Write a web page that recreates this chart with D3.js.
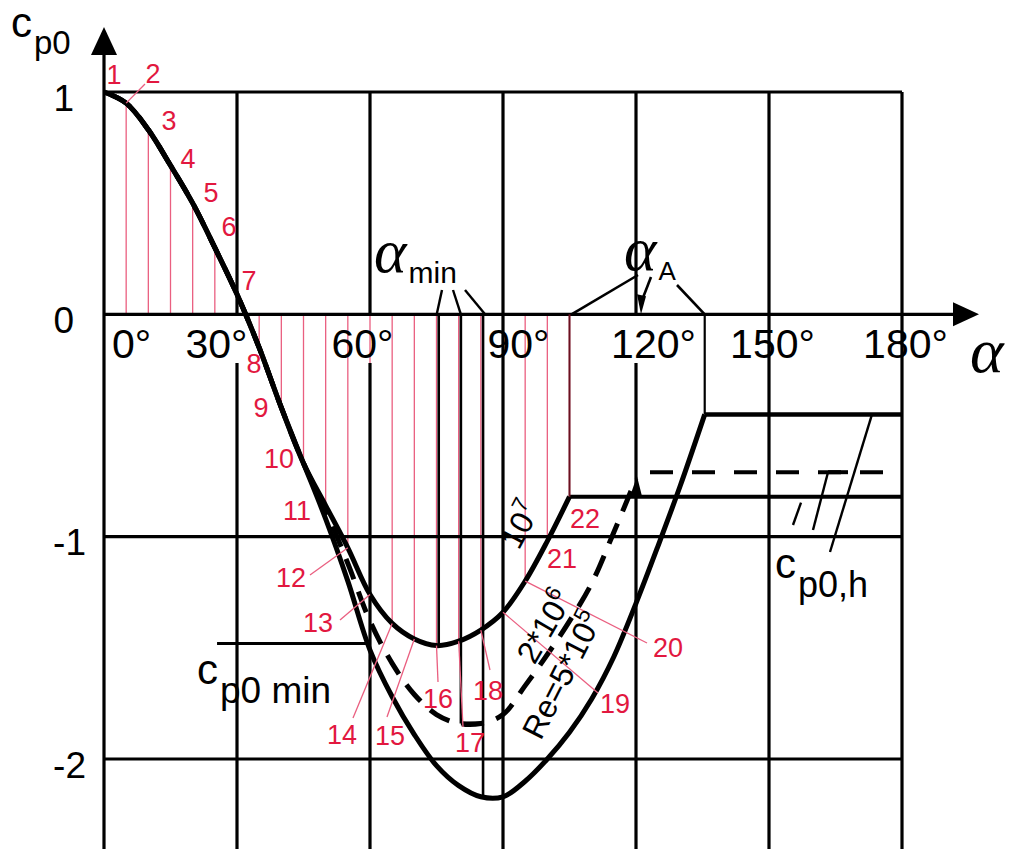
<!DOCTYPE html>
<html>
<head>
<meta charset="utf-8">
<script src="https://cdn.jsdelivr.net/npm/d3@7"></script>
<style>
body { margin: 0; background: #fff; }
svg { display: block; }
</style>
</head>
<body>
<svg id="chart" width="1022" height="849"></svg>
<script>

// ---- data ----
var angle_ticks = [0, 30, 60, 90, 120, 150, 180]
var cp_ticks = [1, 0, -1, -2]

// numbered points 1..22 sit on the Re=10^7 curve every 5 degrees
var point_alpha = [0, 5, 10, 15, 20, 25, 30, 35, 40, 45, 50, 55, 60, 65, 70, 75, 80, 85, 90, 95, 100, 105]
var re7_cp = [1, 0.95, 0.83, 0.67, 0.5, 0.3, 0.09, -0.15, -0.42, -0.67, -0.86, -1.05, -1.26, -1.39, -1.46, -1.49, -1.47, -1.42, -1.34, -1.2, -1.02, -0.82]

var re2e6_alpha = [0, 5, 10, 15, 20, 25, 30, 35, 40, 45, 50, 55, 60, 65, 70, 75, 80, 85, 90, 95, 100, 105, 110, 115, 120]
var re2e6_cp = [1, 0.95, 0.83, 0.67, 0.5, 0.3, 0.09, -0.15, -0.42, -0.67, -0.88, -1.12, -1.38, -1.57, -1.71, -1.8, -1.84, -1.84, -1.8, -1.67, -1.53, -1.38, -1.21, -0.98, -0.74]

var re5e5_alpha = [0, 5, 10, 15, 20, 25, 30, 35, 40, 45, 50, 55, 60, 65, 70, 75, 80, 85, 90, 95, 100, 105, 110, 115, 120, 125, 130, 135.5]
var re5e5_cp = [1, 0.95, 0.83, 0.67, 0.5, 0.3, 0.09, -0.15, -0.42, -0.67, -0.92, -1.2, -1.51, -1.72, -1.89, -2.03, -2.12, -2.17, -2.17, -2.1, -2.0, -1.88, -1.73, -1.54, -1.3, -1.04, -0.77, -0.45]

// alpha_min and alpha_A markers, order: 10^7, 2*10^6, 5*10^5
var alpha_min = [75.5, 80.5, 85.5]
var cp_min = [-1.49, -1.84, -2.17]
var alpha_A = [105, 120, 135.5]
var cp_h = [-0.82, -0.71, -0.45]
var cp0_min_line = [25.5, 60, -1.48]

// ---- layout ----
var red_line = "#ea5f80"
var red_text = "#e2183f"
var ink = "#000"
var sans = "Liberation Sans, Arial, sans-serif"
var serif = "Liberation Serif, Times New Roman, serif"

var svg = d3.select("#chart")

var x = d3.scaleLinear().domain([0, 180]).range([104, 902])
var y = d3.scaleLinear().domain([1, -2]).range([92, 759])
var y_bottom = 849

// label spots for the red numbers (pixel centres) and where their leaders start
var point_label_xy = [[114,74],[153,73],[169,120],[188,158],[211,192],[229,226],[249,280],[254,363],[261,407],[279,458],[297,510],
  [291,577],[318,622],[342,734],[390,735],[438,698],[470,742],[488,690],[615,703],[668,647],[562,558],[585,518]]
var leader_start = {1: [145,84], 11: [310,575], 12: [340,620], 13: [353,718], 14: [387,717], 15: [438,682],
  16: [463,727], 17: [490,670], 18: [598,693], 19: [647,643]}

// red hatch from the axis to the 10^7 curve
svg.append("g").attr("id", "hatch").selectAll("line")
  .data(point_alpha)
  .enter().append("line")
    .attr("x1", function(d){ return x(d) })
    .attr("x2", function(d){ return x(d) })
    .attr("y1", y(0))
    .attr("y2", function(d, i){ return y(re7_cp[i]) })
    .attr("stroke", red_line)
    .attr("stroke-width", 1.3)

// grid
var grid = svg.append("g").attr("id", "grid")
var gap_angles = [30, 60, 120]
angle_ticks.slice(1).forEach(function(a){
  if (gap_angles.indexOf(a) >= 0) {
    grid.append("line").attr("x1", x(a)).attr("x2", x(a)).attr("y1", y(1)).attr("y2", y(0))
    grid.append("line").attr("x1", x(a)).attr("x2", x(a)).attr("y1", 363).attr("y2", y_bottom)
  } else {
    grid.append("line").attr("x1", x(a)).attr("x2", x(a)).attr("y1", y(1)).attr("y2", y_bottom)
  }
})
cp_ticks.filter(function(c){ return c != 0 }).forEach(function(c){
  grid.append("line").attr("x1", x(0)).attr("x2", x(180)).attr("y1", y(c)).attr("y2", y(c))
})
grid.selectAll("line").attr("stroke", ink).attr("stroke-width", 3.2)

// axes with arrows
svg.append("line").attr("x1", x(0)).attr("x2", x(0)).attr("y1", y_bottom).attr("y2", 50)
  .attr("stroke", ink).attr("stroke-width", 3.2)
svg.append("polygon").attr("points", [[x(0), 27], [x(0) - 13, 55], [x(0) + 13, 55]].join(" ")).attr("fill", ink)
svg.append("line").attr("x1", x(0)).attr("x2", 958).attr("y1", y(0)).attr("y2", y(0))
  .attr("stroke", ink).attr("stroke-width", 3.2)
svg.append("polygon").attr("points", [[979, y(0)], [953, y(0) - 12], [953, y(0) + 12]].join(" ")).attr("fill", ink)

// tick labels
var x_dx = [27, -21, -8, 15, 17, 3, 3]
var x_axis = svg.append("g").attr("transform", "translate(0,358)")
  .call(d3.axisBottom(x).tickValues(angle_ticks).tickSize(0).tickFormat(function(d){ return d + "°" }))
x_axis.select(".domain").remove()
x_axis.selectAll("text")
  .attr("y", 0).attr("dy", 0)
  .attr("dx", function(d, i){ return x_dx[i] })
  .attr("font-family", sans)
  .attr("font-size", 41)
  .attr("fill", ink)

var y_axis = svg.append("g").attr("transform", "translate(80,0)")
  .call(d3.axisLeft(y).tickValues(cp_ticks).tickSize(0).tickPadding(0).tickFormat(function(d){ return String(d) }))
y_axis.select(".domain").remove()
y_axis.selectAll("text")
  .attr("x", function(d){ return d < 0 ? 6 : -6 })
  .attr("dy", 18)
  .attr("font-family", sans)
  .attr("font-size", 37)
  .attr("fill", ink)

// curves
var line_of = function(alphas){
  return d3.line()
    .x(function(d, i){ return x(alphas[i]) })
    .y(function(d){ return y(d) })
    .curve(d3.curveCatmullRom.alpha(0.5))
}
var curves = svg.append("g").attr("id", "curves").attr("fill", "none").attr("stroke", ink)
  .attr("stroke-linejoin", "round")

curves.append("path")
  .attr("d", line_of(re2e6_alpha)(re2e6_cp))
  .attr("stroke-width", 5)
  .attr("stroke-dasharray", "22,13")
  .attr("stroke-dashoffset", -8)
curves.append("path")
  .attr("d", line_of(point_alpha)(re7_cp))
  .attr("stroke-width", 5)
curves.append("path")
  .attr("d", line_of(re5e5_alpha)(re5e5_cp))
  .attr("stroke-width", 5)

// horizontal tails c_p0,h
curves.append("line").attr("x1", x(alpha_A[0])).attr("x2", x(180)).attr("y1", y(cp_h[0])).attr("y2", y(cp_h[0]))
  .attr("stroke-width", 4)
curves.append("line").attr("x1", x(alpha_A[1]) + 14).attr("x2", x(180)).attr("y1", y(cp_h[1])).attr("y2", y(cp_h[1]))
  .attr("stroke-width", 4).attr("stroke-dasharray", "23,19")
curves.append("line").attr("x1", x(alpha_A[2])).attr("x2", x(180)).attr("y1", y(cp_h[2])).attr("y2", y(cp_h[2]))
  .attr("stroke-width", 4.5)
svg.append("polygon")
  .attr("points", [[x(alpha_A[1]) + 1, y(cp_h[1]) + 4], [x(alpha_A[1]) - 6, y(cp_h[1]) + 24], [x(alpha_A[1]) + 6, y(cp_h[1]) + 24]].join(" "))
  .attr("fill", ink)

// alpha_A verticals and alpha_min verticals
var marks = svg.append("g").attr("stroke", ink)
marks.append("line").attr("x1", x(alpha_A[0])).attr("x2", x(alpha_A[0])).attr("y1", y(0)).attr("y2", y(cp_h[0]))
  .attr("stroke", "#6a1020").attr("stroke-width", 2)
marks.append("line").attr("x1", x(alpha_A[2])).attr("x2", x(alpha_A[2])).attr("y1", y(0)).attr("y2", y(cp_h[2]))
  .attr("stroke-width", 2.2)
alpha_min.forEach(function(a, i){
  marks.append("line").attr("x1", x(a)).attr("x2", x(a)).attr("y1", y(0)).attr("y2", y(cp_min[i]))
    .attr("stroke-width", 2.6)
})
marks.append("line").attr("x1", x(alpha_min[1])).attr("x2", x(alpha_min[2])).attr("y1", y(cp_min[1])).attr("y2", y(cp_min[1]))
  .attr("stroke-width", 4)
marks.append("line").attr("x1", x(cp0_min_line[0])).attr("x2", x(cp0_min_line[1]))
  .attr("y1", y(cp0_min_line[2])).attr("y2", y(cp0_min_line[2]))
  .attr("stroke-width", 3)

// pointer lines to alpha_min / alpha_A
var alpha_min_tops = [[442, 290], [453, 290], [465, 290]]
alpha_min.forEach(function(a, i){
  marks.append("line").attr("x1", alpha_min_tops[i][0]).attr("y1", alpha_min_tops[i][1])
    .attr("x2", x(a) + (i - 1) * 2).attr("y2", y(0)).attr("stroke-width", 2.4)
})
marks.append("line").attr("x1", 638).attr("y1", 275).attr("x2", x(alpha_A[0]) + 2).attr("y2", y(0)).attr("stroke-width", 2.6)
marks.append("line").attr("x1", 651).attr("y1", 277).attr("x2", x(alpha_A[1]) + 6).attr("y2", y(0) - 14).attr("stroke-width", 2.6)
svg.append("polygon").attr("points", [[x(alpha_A[1]) + 5, y(0)], [x(alpha_A[1]) + 1, y(0) - 20], [x(alpha_A[1]) + 10, y(0) - 18]].join(" "))
  .attr("fill", ink)
marks.append("line").attr("x1", 677).attr("y1", 285).attr("x2", x(alpha_A[2])).attr("y2", y(0)).attr("stroke-width", 2.6)

// pointer lines to c_p0,h
marks.append("line").attr("x1", 793).attr("y1", 525).attr("x2", 801).attr("y2", y(cp_h[0]) + 6).attr("stroke-width", 2.4)
marks.append("line").attr("x1", 813).attr("y1", 530).attr("x2", 828).attr("y2", y(cp_h[1])).attr("stroke-width", 2.4)
marks.append("line").attr("x1", 828).attr("y1", y(cp_h[1])).attr("x2", 848).attr("y2", y(cp_h[1])).attr("stroke-width", 4)
marks.append("line").attr("x1", 830).attr("y1", 552).attr("x2", 872).attr("y2", y(cp_h[2])).attr("stroke-width", 2.4)

// red leaders and numbers
var red = svg.append("g").attr("id", "red-labels")
Object.keys(leader_start).forEach(function(k){
  var i = +k
  red.append("line")
    .attr("x1", leader_start[k][0]).attr("y1", leader_start[k][1])
    .attr("x2", x(point_alpha[i])).attr("y2", y(re7_cp[i]))
    .attr("stroke", red_line).attr("stroke-width", 1.3)
})
red.selectAll("text")
  .data(point_alpha)
  .enter().append("text")
    .attr("x", function(d, i){ return point_label_xy[i][0] })
    .attr("y", function(d, i){ return point_label_xy[i][1] + 10 })
    .attr("text-anchor", "middle")
    .attr("font-family", sans)
    .attr("font-size", 27)
    .attr("fill", red_text)
    .text(function(d, i){ return i + 1 })

// text labels
function sub_label(x0, y0, main, sub, main_size, sub_size, sub_dy, family, italic){
  var t = svg.append("text").attr("x", x0).attr("y", y0)
    .attr("font-family", family).attr("fill", ink)
  t.append("tspan").attr("font-size", main_size).attr("font-style", italic ? "italic" : "normal").text(main)
  t.append("tspan").attr("font-size", sub_size).attr("font-family", sans).attr("dy", sub_dy).attr("dx", 2).text(sub)
  return t
}

sub_label(11, 37, "c", "p0", 42, 33, 17, sans, false)
sub_label(197, 684, "c", "p0 min", 42, 37, 19, sans, false)
sub_label(775, 578, "c", "p0,h", 42, 36, 19, sans, false)
sub_label(374, 272, "α", "min", 62, 30, 11, serif, true)
sub_label(624, 270, "α", "A", 62, 26, 10, serif, true)

svg.append("text").attr("x", 970).attr("y", 372)
  .attr("font-family", serif).attr("font-style", "italic").attr("font-size", 64).attr("fill", ink)
  .text("α")

// Reynolds number labels written along the curves
function re_label(cx, cy, angle, base, power){
  var t = svg.append("text")
    .attr("transform", "translate(" + cx + "," + cy + ") rotate(" + angle + ")")
    .attr("text-anchor", "middle")
    .attr("font-family", sans).attr("font-size", 32).attr("fill", ink)
  t.append("tspan").text(base)
  t.append("tspan").attr("font-size", 22).attr("dy", -13).text(power)
}
re_label(530, 530, -62, "10", "7")
re_label(554, 632, -60, "2*10", "6")
re_label(572, 680, -63, "Re=5*10", "5")

</script>
</body>
</html>
